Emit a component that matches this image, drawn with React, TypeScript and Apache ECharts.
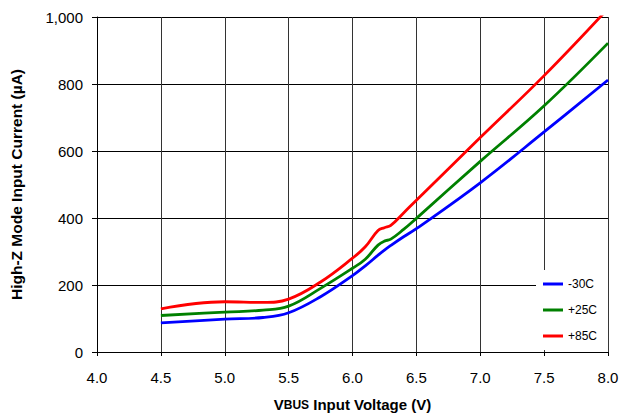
import React, { useEffect, useRef } from "react";
import * as echarts from "echarts";

const voltage = [4.5, 5.0, 5.3, 5.5, 5.75, 6.0, 6.1, 6.2, 6.25, 6.3, 6.4, 6.5, 7.0, 7.5, 8.0];
const minus30C = [87, 98, 103, 117, 165, 228, 257, 289, 304, 318, 344, 368, 505, 657, 812];
const plus25C = [109, 119, 125, 137, 190, 250, 277, 319, 331, 337, 366, 399, 569, 735, 922];
const plus85C = [129, 150, 148, 158, 209, 280, 314, 363, 371, 378, 415, 453, 640, 825, 1025];
const seriesNames = ["-30C", "+25C", "+85C"];
const seriesColors = ["#0000FF", "#008000", "#FF0000"];
const xTitle = "{a|V}{b|BUS}{a| Input Voltage (V)}";
const yTitle = "High-Z Mode Input Current (\u00B5A)";

const FONT = "'Liberation Sans', Arial, sans-serif";

export default function App() {
  const ref = useRef<HTMLDivElement>(null);
  useEffect(() => {
    if (!ref.current) return;
    const chart = echarts.init(ref.current, null, { renderer: "svg" });
    const all = [minus30C, plus25C, plus85C];
    chart.setOption({
      animation: false,
      backgroundColor: "#fff",
      textStyle: { fontFamily: FONT },
      grid: { left: 96, right: 14, top: 17, bottom: 65 },
      legend: {
        orient: "vertical",
        left: 536,
        top: 270,
        backgroundColor: "#fff",
        padding: [7, 11, 7, 7],
        itemWidth: 20,
        itemHeight: 3,
        itemGap: 12,
        icon: "rect",
        textStyle: { fontSize: 12, color: "#000", lineHeight: 14, fontFamily: FONT },
        data: seriesNames,
      },
      xAxis: {
        type: "value",
        min: 4.0,
        max: 8.0,
        interval: 0.5,
        name: xTitle,
        nameLocation: "middle",
        nameGap: 45,
        nameTextStyle: {
          fontSize: 15,
          fontWeight: "bold",
          color: "#000",
          fontFamily: FONT,
          rich: {
            a: { fontSize: 15, fontWeight: "bold", color: "#000", fontFamily: FONT },
            b: { fontSize: 12, fontWeight: "bold", color: "#000", fontFamily: FONT },
          },
        },
        axisLine: { show: true, lineStyle: { color: "#000", width: 1 } },
        axisTick: { show: true, length: 4, lineStyle: { color: "#000" } },
        axisLabel: {
          fontSize: 15,
          color: "#000",
          margin: 18,
          fontFamily: FONT,
          formatter: (v: number) => v.toFixed(1),
        },
        splitLine: { show: true, lineStyle: { color: "#333", width: 1 } },
      },
      yAxis: {
        type: "value",
        min: 0,
        max: 1000,
        interval: 200,
        name: yTitle,
        nameLocation: "middle",
        nameGap: 73,
        nameRotate: 90,
        nameTextStyle: { fontSize: 15.5, fontWeight: "bold", color: "#000", fontFamily: FONT },
        axisLine: { show: true, lineStyle: { color: "#000", width: 1 } },
        axisTick: { show: true, length: 5, lineStyle: { color: "#000" } },
        axisLabel: {
          fontSize: 15,
          color: "#000",
          margin: 14,
          fontFamily: FONT,
          formatter: (v: number) => v.toLocaleString("en-US"),
        },
        splitLine: { show: true, lineStyle: { color: "#000", width: 1 } },
      },
      series: seriesNames.map((name, i) => ({
        name,
        type: "line",
        data: voltage.map((x, j) => [x, all[i][j]]),
        smooth: 0.4,
        showSymbol: false,
        clip: true,
        lineStyle: { color: seriesColors[i], width: 2.8 },
        itemStyle: { color: seriesColors[i] },
      })),
    });
    return () => chart.dispose();
  }, []);
  return (
    <div
      ref={ref}
      style={{ position: "absolute", left: 0, top: 0, width: 622, height: 417 }}
    />
  );
}
